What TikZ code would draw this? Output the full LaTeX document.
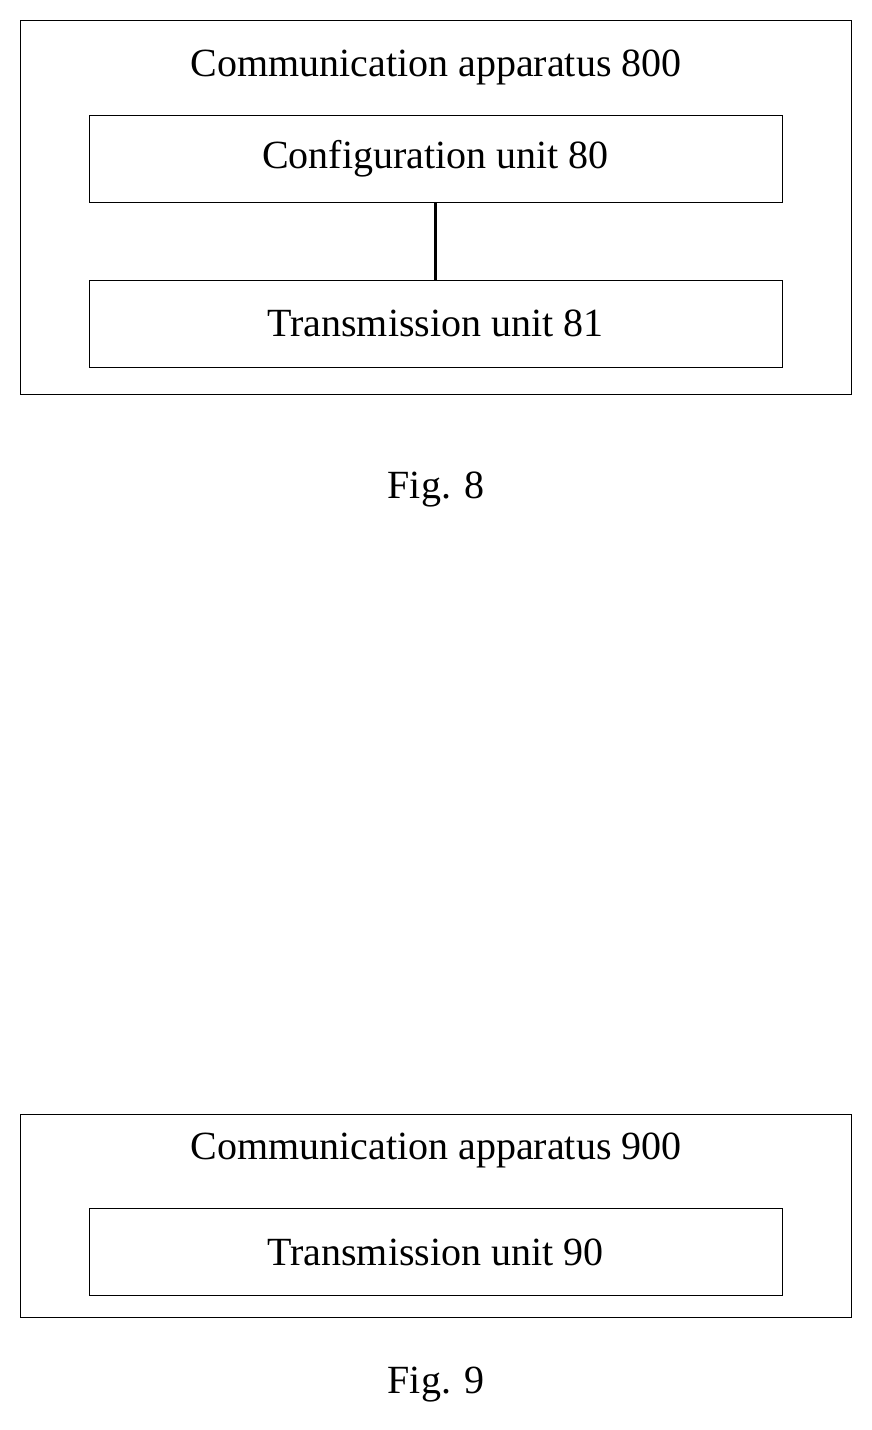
\documentclass[tikz,border=0pt]{standalone}
\usepackage{fontspec}
\setmainfont{Liberation Serif}
\usetikzlibrary{positioning}

\tikzset{
  unit/.style={draw, line width=1pt, minimum width=693pt, minimum height=87pt, font=\fontsize{40}{44}\selectfont},
  frame/.style={draw, line width=1pt},
  label/.style={font=\fontsize{40}{44}\selectfont}
}

\begin{document}
\begin{tikzpicture}[x=1pt,y=-1pt]
  \useasboundingbox (0,0) rectangle (872,1430);

  % Fig. 8
  \draw [frame] (20,20) rectangle (851,394);
  \node [label] (title_8) at (436,67) {Communication apparatus 800};
  \node [unit] (config) at (435.5,159) {Configuration unit 80};
  \node [unit] (trans_8) at (435.5,323.5) {Transmission unit 81};
  \draw [line width=3pt] (config) -- (trans_8);
  \node [label] (fig_8) at (436,490) {Fig. 8};

  % Fig. 9
  \draw [frame] (20,1114) rectangle (851,1317);
  \node [label] (title_9) at (436,1150) {Communication apparatus 900};
  \node [unit] (trans_9) at (435.5,1252) {Transmission unit 90};
  \node [label] (fig_9) at (436,1385) {Fig. 9};

\end{tikzpicture}
\end{document}
